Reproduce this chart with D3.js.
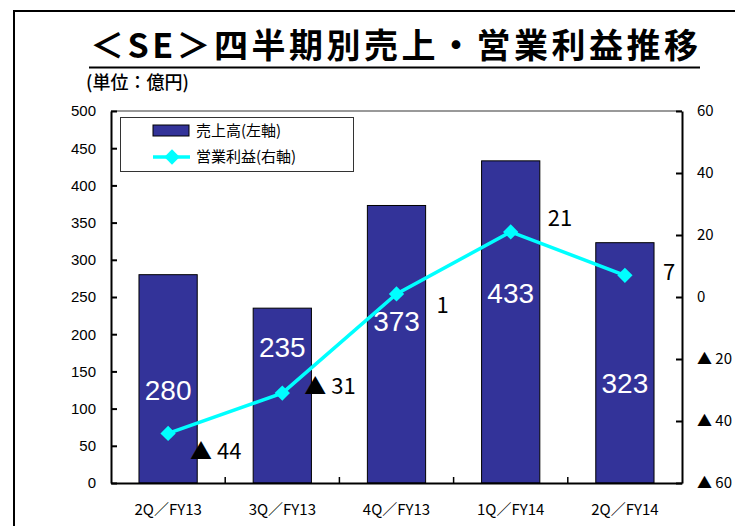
<!DOCTYPE html>
<html>
<head>
<meta charset="utf-8">
<script src="https://cdn.jsdelivr.net/npm/d3@7"></script>
<style>
  body { margin: 0; background: #fff; }
  svg { display: block; font-family: "Liberation Sans", "Noto Sans CJK JP", sans-serif; }
</style>
</head>
<body>
<div id="chart"></div>
<script>
// quarters on the x axis
const quarters = ["2Q／FY13", "3Q／FY13", "4Q／FY13", "1Q／FY14", "2Q／FY14"];
// sales, left axis (億円)
const sales = [280, 235, 373, 433, 323];
// operating profit, right axis (億円)
const profit = [-44, -31, 1, 21, 7];
// axis ticks
const leftTicks = [0, 50, 100, 150, 200, 250, 300, 350, 400, 450, 500];
const rightTicks = [-60, -40, -20, 0, 20, 40, 60];

const width = 735;
const height = 526;
const margin = { top: 111, right: 53, bottom: 43, left: 111 };
const cjk = "'Noto Sans CJK JP', sans-serif";
const fmtTri = d => d < 0 ? "▲ " + (-d) : d;

const svg = d3.select("#chart").append("svg")
  .attr("width", width)
  .attr("height", height);

// outer frame (left and top edges visible)
svg.append("path")
  .attr("d", `M14,${height} L14,11 L${width},11`)
  .attr("fill", "none")
  .attr("stroke", "#000")
  .attr("stroke-width", 2);

// title
svg.append("text")
  .attr("x", 394)
  .attr("y", 58)
  .attr("text-anchor", "middle")
  .attr("font-family", cjk)
  .attr("font-weight", "bold")
  .attr("font-size", 34)
  .attr("textLength", 608)
  .attr("lengthAdjust", "spacing")
  .text("＜SE＞四半期別売上・営業利益推移");
svg.append("line")
  .attr("x1", 89).attr("x2", 700)
  .attr("y1", 67.5).attr("y2", 67.5)
  .attr("stroke", "#000").attr("stroke-width", 2);

svg.append("text")
  .attr("x", 86)
  .attr("y", 89)
  .attr("font-family", cjk)
  .attr("font-weight", 500)
  .attr("font-size", 18)
  .text("(単位：億円)");

// scales
const x = d3.scaleBand()
  .domain(quarters)
  .range([margin.left, width - margin.right]);

const yL = d3.scaleLinear()
  .domain([0, 500])
  .range([height - margin.bottom, margin.top]);

const yR = d3.scaleLinear()
  .domain([-60, 60])
  .range([height - margin.bottom, margin.top]);

const x0 = margin.left, x1 = width - margin.right;
const yTop = margin.top, yBot = height - margin.bottom;

// plot area top edge (gray)
svg.append("line")
  .attr("x1", x0).attr("x2", x1)
  .attr("y1", yTop).attr("y2", yTop)
  .attr("stroke", "#999").attr("stroke-width", 2);

// bars
const barW = x.bandwidth() * 0.51;
svg.selectAll("rect.bar")
  .data(sales)
  .enter()
  .append("rect")
  .attr("class", "bar")
  .attr("x", (d, i) => x(quarters[i]) + (x.bandwidth() - barW) / 2)
  .attr("y", d => yL(d))
  .attr("width", barW)
  .attr("height", d => yL(0) - yL(d))
  .attr("fill", "#333399")
  .attr("stroke", "#000")
  .attr("stroke-width", 1);

// bar value labels (value-space anchor of each label inside the bar)
const salesLabelAt = [125, 183, 218, 255, 134];
svg.selectAll("text.sales")
  .data(sales)
  .enter()
  .append("text")
  .attr("class", "sales")
  .attr("x", (d, i) => x(quarters[i]) + x.bandwidth() / 2)
  .attr("y", (d, i) => yL(salesLabelAt[i]))
  .attr("dy", "0.36em")
  .attr("text-anchor", "middle")
  .attr("fill", "#fff")
  .attr("font-size", 28)
  .text(d => d);

// left axis
svg.append("g")
  .attr("transform", `translate(${x0},0)`)
  .call(d3.axisLeft(yL).tickValues(leftTicks).tickSize(-6).tickSizeOuter(0).tickPadding(15))
  .call(g => g.selectAll("text").attr("font-size", 15).attr("fill", "#000"))
  .call(g => g.selectAll("line, path").attr("stroke", "#000").attr("stroke-width", 2));

// right axis
svg.append("g")
  .attr("transform", `translate(${x1},0)`)
  .call(d3.axisRight(yR).tickValues(rightTicks).tickSize(-6).tickSizeOuter(0).tickPadding(15)
    .tickFormat(fmtTri))
  .call(g => g.selectAll("text").attr("font-size", 15).attr("fill", "#000")
    .attr("font-family", cjk))
  .call(g => g.selectAll("line, path").attr("stroke", "#000").attr("stroke-width", 2));

// bottom axis: labels centered, ticks between categories
const bottom = svg.append("g")
  .attr("transform", `translate(0,${yBot})`)
  .call(d3.axisBottom(x).tickSize(0).tickPadding(21))
  .call(g => g.selectAll("text").attr("font-size", 15).attr("fill", "#000")
    .attr("font-family", cjk))
  .call(g => g.select("path").attr("stroke", "#000").attr("stroke-width", 2));
bottom.selectAll("line.sep")
  .data(quarters.slice(1))
  .enter()
  .append("line")
  .attr("class", "sep")
  .attr("x1", d => x(d)).attr("x2", d => x(d))
  .attr("y1", 0).attr("y2", -6)
  .attr("stroke", "#000").attr("stroke-width", 1.5);

// profit line
const cx = (d, i) => x(quarters[i]) + x.bandwidth() / 2;
const line = d3.line()
  .x(cx)
  .y(d => yR(d));

svg.append("path")
  .datum(profit)
  .attr("d", line)
  .attr("fill", "none")
  .attr("stroke", "#00FFFF")
  .attr("stroke-width", 3.5);

const diamond = d3.symbol().type(d3.symbolDiamond2).size(150);
svg.selectAll("path.pt")
  .data(profit)
  .enter()
  .append("path")
  .attr("class", "pt")
  .attr("d", diamond)
  .attr("transform", (d, i) => `translate(${cx(d, i)},${yR(d)})`)
  .attr("fill", "#00FFFF");

// profit labels, offset from each point
const profitDx = [22, 22, 40, 37, 38];
const profitDy = [18, -7, 11, -14, -3];
svg.selectAll("text.profit")
  .data(profit)
  .enter()
  .append("text")
  .attr("class", "profit")
  .attr("x", (d, i) => cx(d, i) + profitDx[i])
  .attr("y", (d, i) => yR(d) + profitDy[i])
  .attr("dy", "0.36em")
  .attr("font-size", 22)
  .attr("font-family", cjk)
  .attr("fill", "#000")
  .text(fmtTri);

// legend
const legend = svg.append("g");
legend.append("rect")
  .attr("x", 120.5).attr("y", 117.5)
  .attr("width", 233).attr("height", 54)
  .attr("fill", "#fff")
  .attr("stroke", "#333").attr("stroke-width", 1);
legend.append("rect")
  .attr("x", 153).attr("y", 125)
  .attr("width", 36).attr("height", 11)
  .attr("fill", "#333399").attr("stroke", "#000");
legend.append("text")
  .attr("x", 196).attr("y", 131).attr("dy", "0.36em")
  .attr("font-family", cjk)
  .attr("font-size", 15)
  .text("売上高(左軸)");
legend.append("line")
  .attr("x1", 153).attr("x2", 190)
  .attr("y1", 157).attr("y2", 157)
  .attr("stroke", "#00FFFF").attr("stroke-width", 3.5);
legend.append("path")
  .attr("d", diamond)
  .attr("transform", "translate(172,157)")
  .attr("fill", "#00FFFF");
legend.append("text")
  .attr("x", 196).attr("y", 157).attr("dy", "0.36em")
  .attr("font-family", cjk)
  .attr("font-size", 15)
  .text("営業利益(右軸)");
</script>
</body>
</html>
